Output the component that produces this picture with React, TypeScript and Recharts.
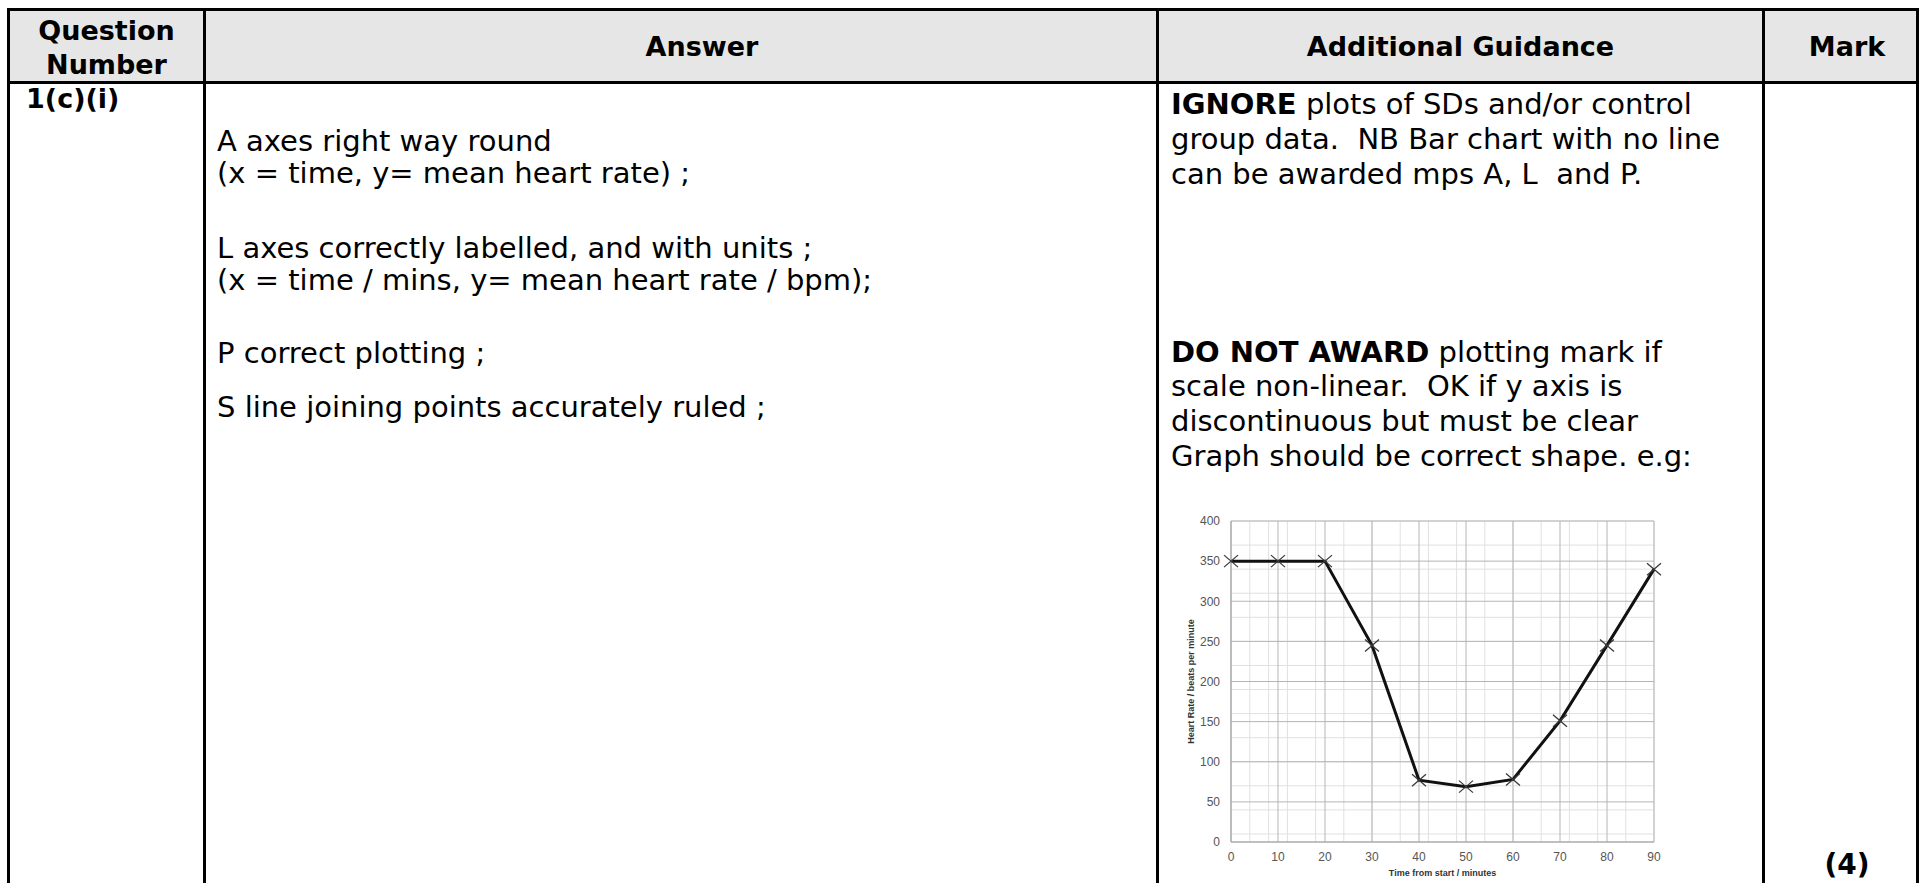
import React from "react";
import {
  LineChart,
  Line,
  XAxis,
  YAxis,
  CartesianGrid,
} from "recharts";

// time from start (minutes) and heart rate (beats per minute)
const times = [0, 10, 20, 30, 40, 50, 60, 70, 80, 90];
const heartRate = [350, 350, 350, 245, 77, 69, 78, 151, 245, 340];
const xTicks = [0, 10, 20, 30, 40, 50, 60, 70, 80, 90];
const yTicks = [0, 50, 100, 150, 200, 250, 300, 350, 400];

const answerLines = [
  "A axes right way round",
  "(x = time, y= mean heart rate) ;",
  "L axes correctly labelled, and with units ;",
  "(x = time / mins, y= mean heart rate / bpm);",
  "P correct plotting ;",
  "S line joining points accurately ruled ;",
];
const answerBaselines = [152, 184, 259, 291, 364, 418];

const guidanceLines: [string, string][] = [
  ["IGNORE", " plots of SDs and/or control"],
  ["", "group data.  NB Bar chart with no line"],
  ["", "can be awarded mps A, L  and P."],
  ["DO NOT AWARD", " plotting mark if"],
  ["", "scale non-linear.  OK if y axis is"],
  ["", "discontinuous but must be clear"],
  ["", "Graph should be correct shape. e.g:"],
];
const guidanceBaselines = [115, 150, 185, 363, 397, 432, 467];

const data = times.map((t, i) => ({ time: t, rate: heartRate[i] }));

// graph paper: fine lines every 2 min / 10 bpm
const minorX = Array.from({ length: 46 }, (_, i) => i * 2);
const minorY = Array.from({ length: 41 }, (_, i) => i * 10);

const Txt = ({
  x,
  base,
  size = 29,
  bold = false,
  width,
  children,
}: {
  x: number;
  base: number;
  size?: number;
  bold?: boolean;
  width?: number;
  children: React.ReactNode;
}) => (
  <div
    style={{
      position: "absolute",
      left: x,
      top: base - 0.846 * size,
      width,
      textAlign: width ? "center" : "left",
      fontSize: size,
      lineHeight: `${size}px`,
      fontWeight: bold ? 700 : 400,
      whiteSpace: "pre",
    }}
  >
    {children}
  </div>
);

const Rule = ({ x, y, w, h }: { x: number; y: number; w: number; h: number }) => (
  <div style={{ position: "absolute", left: x, top: y, width: w, height: h, background: "#000" }} />
);

const Cross = (props: any) => {
  const { cx, cy } = props;
  if (cx == null || cy == null) return null;
  return (
    <path
      key={`c-${cx}`}
      d={`M${cx - 7},${cy - 6}L${cx + 7},${cy + 6}M${cx + 7},${cy - 6}L${cx - 7},${cy + 6}`}
      stroke="#3a3a3a"
      strokeWidth={1.3}
      fill="none"
    />
  );
};

const chartFont = "Liberation Sans, Arial, sans-serif";
const tickStyle = { fontSize: 12, fill: "#555", fontFamily: chartFont };

const HeartChart = () => (
  <LineChart
    width={500}
    height={393}
    data={data}
    margin={{ top: 31, right: 16, left: 0, bottom: 5 }}
  >
    <CartesianGrid stroke="#e0e0e0" verticalValues={minorX} horizontalValues={minorY} />
    <CartesianGrid stroke="#b5b5b5" verticalValues={xTicks} horizontalValues={yTicks} />
    <XAxis
      dataKey="time"
      type="number"
      domain={[0, 90]}
      ticks={xTicks}
      height={36}
      stroke="#a6a6a6"
      tickLine={false}
      tickSize={5}
      tickMargin={5}
      tick={tickStyle}
      label={{
        value: "Time from start / minutes",
        position: "insideBottom",
        offset: 2,
        style: { fontSize: 9, fontWeight: 700, fill: "#333", fontFamily: chartFont },
      }}
    />
    <YAxis
      type="number"
      domain={[0, 400]}
      ticks={yTicks}
      width={61}
      stroke="#a6a6a6"
      tickLine={false}
      tickSize={5}
      tickMargin={6}
      tick={tickStyle}
      label={{
        value: "Heart  Rate / beats per minute",
        angle: -90,
        position: "insideLeft",
        offset: 21,
        style: {
          textAnchor: "middle",
          fontSize: 9,
          fontWeight: 700,
          fill: "#333",
          fontFamily: chartFont,
        },
      }}
    />
    <Line
      dataKey="rate"
      type="linear"
      stroke="#111"
      strokeWidth={3}
      dot={<Cross />}
      activeDot={false}
      isAnimationActive={false}
    />
  </LineChart>
);

export default function App() {
  return (
    <div
      style={{
        position: "fixed",
        left: 0,
        top: 0,
        width: 1921,
        height: 883,
        overflow: "hidden",
        background: "#fff",
        color: "#000",
        fontFamily: '"DejaVu Sans", sans-serif',
      }}
    >
      {/* header band */}
      <div style={{ position: "absolute", left: 10, top: 11, width: 1906, height: 70, background: "#e6e6e6" }} />

      {/* table rules */}
      <Rule x={7} y={8} w={1912} h={3} />
      <Rule x={7} y={81} w={1912} h={3} />
      <Rule x={7} y={8} w={3} h={900} />
      <Rule x={203} y={8} w={3} h={900} />
      <Rule x={1156} y={8} w={3} h={900} />
      <Rule x={1762} y={8} w={3} h={900} />
      <Rule x={1916} y={8} w={3} h={900} />

      {/* header text */}
      <Txt x={10} width={193} base={40} size={27} bold>Question</Txt>
      <Txt x={10} width={193} base={74} size={27} bold>Number</Txt>
      <Txt x={206} width={992} base={56} size={27} bold>Answer</Txt>
      <Txt x={1159} width={603} base={56} size={27} bold>Additional Guidance</Txt>
      <Txt x={1777} width={140} base={56} size={27} bold>Mark</Txt>

      {/* body */}
      <Txt x={26} base={108} size={27} bold>1(c)(i)</Txt>
      {answerLines.map((s, i) => (
        <Txt key={s} x={217} base={answerBaselines[i]}>{s}</Txt>
      ))}
      {guidanceLines.map(([b, s], i) => (
        <Txt key={i} x={1171} base={guidanceBaselines[i]}>
          {b && <b>{b}</b>}
          {s}
        </Txt>
      ))}
      <Txt x={1777} width={140} base={875} size={28} bold>(4)</Txt>

      <div style={{ position: "absolute", left: 1170, top: 490 }}>
        <HeartChart />
      </div>
    </div>
  );
}
